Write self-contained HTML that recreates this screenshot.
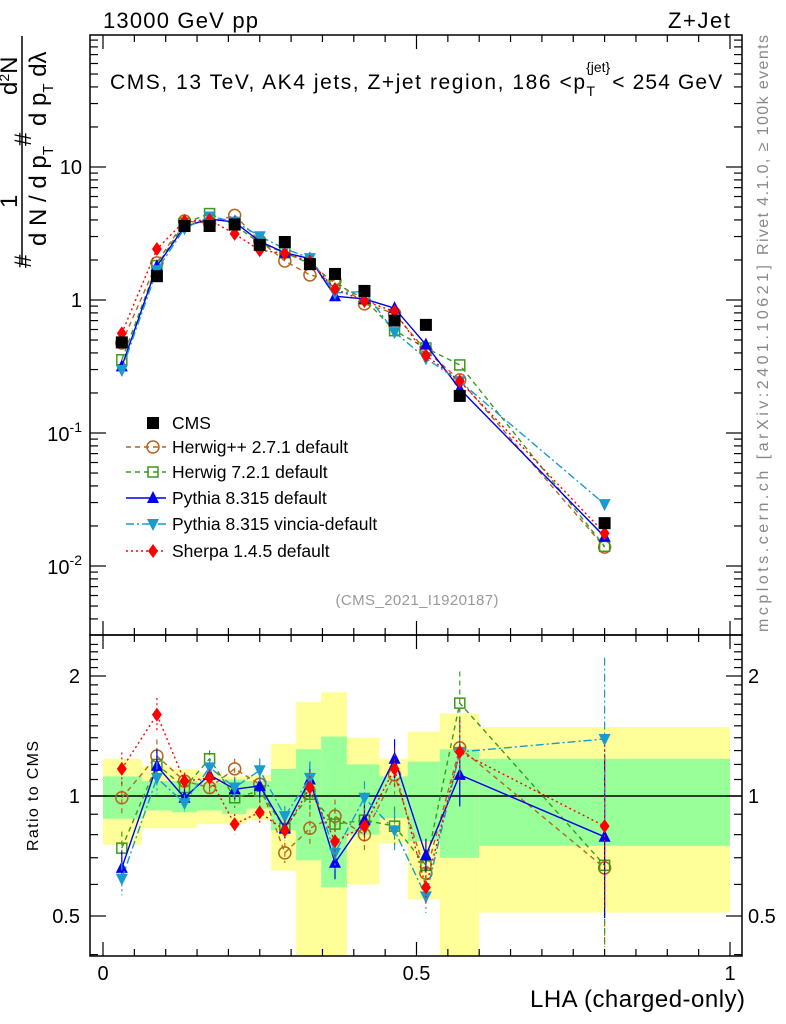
<!DOCTYPE html>
<html><head><meta charset="utf-8"><style>
html,body{margin:0;padding:0;background:#fff}
svg{display:block;font-family:"Liberation Sans",sans-serif}
</style></head><body>
<svg id="c" width="786" height="1024" viewBox="0 0 786 1024" xmlns="http://www.w3.org/2000/svg">
<g id="bands"></g>
<g id="series"></g>
<rect x="90" y="35" width="652" height="600" fill="none" stroke="#000" stroke-width="1.5"/>
<rect x="90" y="635" width="652" height="321" fill="none" stroke="#000" stroke-width="1.5"/>
<g id="axes"></g>
<text x="103" y="28" font-size="22" textLength="155">13000 GeV pp</text>
<text x="730" y="28" font-size="22" text-anchor="end" textLength="62">Z+Jet</text>
<text x="110" y="89" font-size="21"><tspan textLength="475">CMS, 13 TeV, AK4 jets, Z+jet region, 186 &lt;p</tspan><tspan font-size="14" dy="7">T</tspan><tspan font-size="14" dx="-9" dy="-24">{jet}</tspan><tspan dy="17" dx="2" textLength="110">&lt; 254 GeV</tspan></text>
<text x="417" y="605" font-size="15" fill="#999" text-anchor="middle" textLength="163">(CMS_2021_I1920187)</text>
<text transform="translate(768,255) rotate(-90)" font-size="16" fill="#888" textLength="220">Rivet 4.1.0, ≥ 100k events</text>
<text transform="translate(768,632) rotate(-90)" font-size="16" fill="#888" textLength="367">mcplots.cern.ch [arXiv:2401.10621]</text>
<g font-size="24">
<line x1="22" y1="36" x2="22" y2="265" stroke="#000" stroke-width="1.5"/>
<text transform="translate(31,268) rotate(-90)">#</text>
<text transform="translate(17,208) rotate(-90)">1</text>
<text transform="translate(46,246) rotate(-90)">d N / d p<tspan font-size="15" dy="7">T</tspan></text>
<text transform="translate(31,146) rotate(-90)">#</text>
<text transform="translate(17,95) rotate(-90)">d<tspan font-size="14" dy="-8">2</tspan><tspan dy="8">N</tspan></text>
<text transform="translate(46,126) rotate(-90)">d p<tspan font-size="15" dy="7">T</tspan><tspan dy="-7"> dλ</tspan></text>
</g>
<text transform="translate(38,796) rotate(-90)" font-size="16" text-anchor="middle" textLength="110">Ratio to CMS</text>
<text x="745" y="1007" font-size="24" text-anchor="end" textLength="215">LHA (charged-only)</text>
<g id="legend"></g>
</svg>
<script>
const edges=[0,0.062,0.11,0.15,0.19,0.229,0.268,0.308,0.348,0.389,0.441,0.486,0.537,0.6,1.0];
const xPts=[0.03,0.086,0.13,0.17,0.21,0.25,0.29,0.33,0.37,0.417,0.465,0.515,0.569,0.8];
const cms=[0.48,1.51,3.6,3.6,3.7,2.6,2.73,1.86,1.57,1.17,0.70,0.65,0.19,0.021];
const yelUp=[1.24,1.19,1.17,1.15,1.12,1.13,1.35,1.72,1.82,1.4,1.24,1.45,1.61,1.49];
const yelDn=[0.755,0.83,0.83,0.85,0.85,0.87,0.65,0.35,0.35,0.6,0.76,0.55,0.35,0.51];
const grnUp=[1.12,1.09,1.09,1.08,1.1,1.09,1.17,1.31,1.41,1.2,1.12,1.22,1.31,1.24];
const grnDn=[0.877,0.92,0.91,0.92,0.9,0.93,0.82,0.69,0.59,0.8,0.88,0.77,0.70,0.75];
const rHerwigpp=[0.99,1.26,1.09,1.05,1.17,1.07,0.72,0.83,0.89,0.80,1.13,0.64,1.32,0.66];
const rHerwig7=[0.74,1.20,1.05,1.24,0.99,1.03,0.83,1.01,0.85,0.87,0.84,0.67,1.71,0.67];
const rPythia=[0.66,1.19,0.99,1.13,1.04,1.06,0.83,1.10,0.68,0.87,1.24,0.71,1.13,0.79];
const rVincia=[0.62,1.11,0.96,1.18,1.05,1.16,0.89,1.11,0.72,0.99,0.82,0.56,1.29,1.39];
const rSherpa=[1.17,1.6,1.09,1.11,0.85,0.91,0.82,1.05,0.77,0.84,1.17,0.59,1.29,0.84];
const ratioErr=[0.1,0.1,0.05,0.05,0.06,0.07,0.06,0.1,0.1,0.1,0.12,0.1,0.2,0.6];
const legendLabels=["CMS","Herwig++ 2.7.1 default","Herwig 7.2.1 default","Pythia 8.315 default","Pythia 8.315 vincia-default","Sherpa 1.4.5 default"];

const NS="http://www.w3.org/2000/svg";
const X=v=>103+v*627;
const Y=v=>300-133*Math.log10(v);
const R=v=>{const y=796-120*Math.log2(v);return Math.max(636,Math.min(955,y));};
function mk(p,t,a){const e=document.createElementNS(NS,t);for(const k in a)e.setAttribute(k,a[k]);p.appendChild(e);return e;}
const bands=document.getElementById('bands'),ser=document.getElementById('series'),axes=document.getElementById('axes'),leg=document.getElementById('legend');
for(let i=0;i<cms.length;i++){
 const x0=X(edges[i]),x1=X(edges[i+1]);
 const yb=mk(bands,'rect',{x:x0,y:R(yelUp[i]),width:x1-x0,height:R(yelDn[i])-R(yelUp[i]),fill:'#ffff99'});
 
 
 const gb=mk(bands,'rect',{x:x0,y:R(grnUp[i]),width:x1-x0,height:R(grnDn[i])-R(grnUp[i]),fill:'#99ff99'});
 
 
}
const ul=mk(bands,'line',{x1:90,x2:742,y1:R(1),y2:R(1),stroke:'#000','stroke-width':1.5});



function marker(g,type,x,y,col){
 const s=6;
 if(type==='sq')return mk(g,'rect',{x:x-s,y:y-s,width:2*s,height:2*s,fill:'#000'});
 if(type==='osq')return mk(g,'rect',{x:x-s+1,y:y-s+1,width:2*s-2,height:2*s-2,fill:'none',stroke:col,'stroke-width':1.5});
 if(type==='oc')return mk(g,'circle',{cx:x,cy:y,r:s,fill:'none',stroke:col,'stroke-width':1.5});
 if(type==='tri')return mk(g,'polygon',{points:`${x},${y-7} ${x-6},${y+5} ${x+6},${y+5}`,fill:col});
 if(type==='itri')return mk(g,'polygon',{points:`${x},${y+7} ${x-6},${y-5} ${x+6},${y-5}`,fill:col});
 if(type==='dia')return mk(g,'polygon',{points:`${x},${y-7} ${x-5},${y} ${x},${y+7} ${x+5},${y}`,fill:col});
}
const series=[
 {n:'herwigpp',r:rHerwigpp,c:'#b5651d',m:'oc',d:'5,4'},
 {n:'herwig7',r:rHerwig7,c:'#3c9a1a',m:'osq',d:'5,4'},
 {n:'pythia',r:rPythia,c:'#0000ee',m:'tri',d:''},
 {n:'vincia',r:rVincia,c:'#1a9bd0',m:'itri',d:'8,3,2,3'},
 {n:'sherpa',r:rSherpa,c:'#ff0000',m:'dia',d:'2,3'}];
series.forEach(s=>{
 const g=mk(ser,'g',{});
 
 
 const main=s.r.map((r,i)=>r*cms[i]);
 mk(g,'polyline',{points:main.map((v,i)=>X(xPts[i])+','+Y(v)).join(' '),fill:'none',stroke:s.c,'stroke-width':1.4,'stroke-dasharray':s.d});
 mk(g,'polyline',{points:s.r.map((v,i)=>X(xPts[i])+','+R(v)).join(' '),fill:'none',stroke:s.c,'stroke-width':1.4,'stroke-dasharray':s.d});
 s.r.forEach((v,i)=>{
  const x=X(xPts[i]);
  mk(g,'line',{x1:x,x2:x,y1:R(v*(1+ratioErr[i])),y2:R(v/(1+ratioErr[i])),stroke:s.c,'stroke-width':1.2,'stroke-dasharray':s.d});
  const m1=marker(g,s.m,x,Y(main[i]),s.c);
  
  
  const m2=marker(g,s.m,x,R(v),s.c);
  
  
 });
});
cms.forEach((v,i)=>{
 const m=marker(ser,'sq',X(xPts[i]),Y(v),'#000');
 
 
});
function txt(p,x,y,s,t,a){const e=mk(p,'text',{x:x,y:y,'font-size':s,'text-anchor':a||'middle'});e.textContent=t;return e;}
for(let v=0;v<=1.0001;v+=0.05){
 const x=X(v),big=Math.abs(v*10-Math.round(v*10))<1e-6&&Math.round(v*10)%5===0;
 const L=big?14:7;
 [[635,635-L],[35,35+L],[956,956-L],[635,635+L]].forEach(([a,b])=>mk(axes,'line',{x1:x,x2:x,y1:a,y2:b,stroke:'#000','stroke-width':1.2}));
}
const xt=[["0",0],["0.5",0.5],["1",1]];
xt.forEach(([t,v])=>{const e=txt(axes,X(v),980,20,t);});
for(let d=-3;d<=1;d++)for(let k=1;k<10;k++){
 const v=k*Math.pow(10,d),y=Y(v);if(y<35||y>635)continue;
 const L=k===1?16:8;
 mk(axes,'line',{x1:90,x2:90+L,y1:y,y2:y,stroke:'#000','stroke-width':1.2});
 mk(axes,'line',{x1:742,x2:742-L,y1:y,y2:y,stroke:'#000','stroke-width':1.2});
}
[[10,'10'],[1,'1']].forEach(([v,t])=>{const e=txt(axes,82,Y(v)+7,20,t,'end');});
[[0.1,'-1'],[0.01,'-2']].forEach(([v,t])=>{const e=mk(axes,'text',{x:82,y:Y(v)+8,'font-size':20,'text-anchor':'end'});e.innerHTML='10<tspan font-size="14" dy="-9">'+t+'</tspan>';});
const rt=[0.4,0.5,0.6,0.7,0.8,0.9,1,1.1,1.2,1.3,1.4,1.5,1.6,1.7,1.8,1.9,2,2.1,2.2,2.3,2.4];
rt.forEach(v=>{const y=R(v);if(y<=636||y>=955)return;const L=(v===0.5||v===1||v===2)?16:8;
 mk(axes,'line',{x1:90,x2:90+L,y1:y,y2:y,stroke:'#000','stroke-width':1.2});
 mk(axes,'line',{x1:742,x2:742-L,y1:y,y2:y,stroke:'#000','stroke-width':1.2});});
[[2,'2'],[1,'1'],[0.5,'0.5']].forEach(([v,t])=>{
 const a=txt(axes,80,R(v)+7,20,t,'end');
 const b=txt(axes,748,R(v)+7,20,t,'start');});
const lm=['sq','oc','osq','tri','itri','dia'],lc=['#000','#b5651d','#3c9a1a','#0000ee','#1a9bd0','#ff0000'],ld=['','5,4','5,4','','8,3,2,3','2,3'];
const ly=[423,447,472,498,524,551];
legendLabels.forEach((t,i)=>{
 const g=mk(leg,'g',{});
 
 
 if(i>0)mk(g,'line',{x1:126,x2:166,y1:ly[i],y2:ly[i],stroke:lc[i],'stroke-width':1.4,'stroke-dasharray':ld[i]});
 marker(g,lm[i],153,ly[i],lc[i]);
 txt(g,172,ly[i]+6,17.5,t,'start');
});
</script>
</body></html>
